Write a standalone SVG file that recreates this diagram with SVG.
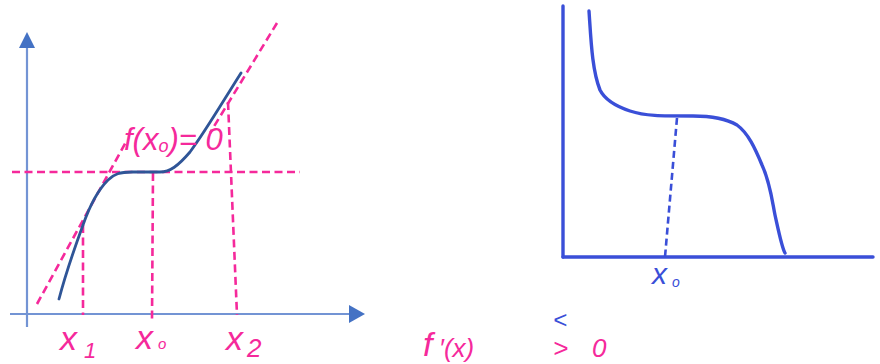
<svg xmlns="http://www.w3.org/2000/svg" width="880" height="364" viewBox="0 0 880 364">
<style>
.axis{stroke:#7394d4;stroke-width:2.2;fill:none}
.ahead{fill:#4472c4}
.pdash{stroke:#f5299b;stroke-width:2.6;stroke-dasharray:8 4.5;fill:none}
.curve{stroke:#2f5597;stroke-width:2.8;fill:none;stroke-linecap:round}
.bl{stroke:#3a4fd8;stroke-width:3.4;fill:none;stroke-linecap:round;stroke-linejoin:round}
.bdash{stroke:#3a4fd8;stroke-width:2.6;stroke-dasharray:7 4;fill:none}
.pt{fill:#f5299b;font-family:"Liberation Sans",Arial,sans-serif;font-style:italic}
.bt{fill:#3a4fd8;font-family:"Liberation Sans",Arial,sans-serif;font-style:italic}
</style>
<rect width="880" height="364" fill="#ffffff"/>
<g id="left-plot">
  <g id="left-axes">
    <line class="axis" x1="27" y1="327" x2="27" y2="46"/>
    <polygon class="ahead" points="27,32 19,48 35,48"/>
    <line class="axis" x1="10" y1="314" x2="350" y2="314"/>
    <polygon class="ahead" points="365,314 349,305 349,323"/>
  </g>
  <g id="left-guides">
    <line class="pdash" x1="12" y1="172" x2="300" y2="172"/>
    <line class="pdash" x1="37" y1="304" x2="127" y2="140"/>
    <line class="pdash" x1="277" y1="23" x2="210" y2="133"/>
    <line class="pdash" x1="83" y1="225" x2="83" y2="315"/>
    <line class="pdash" x1="153" y1="173" x2="152" y2="320"/>
    <line class="pdash" x1="228" y1="102" x2="237" y2="315"/>
  </g>
  <path id="left-curve" class="curve" d="M59,299 C64,280 72,255 83,225 C90,205 98,190 108,180 C114,174 120,172 132,172 L160,172 C170,172 178,166 190,152 C205,132 222,103 241,73"/>
  <g id="left-labels">
    <text class="pt" x="124" y="150" font-size="31">f(x<tspan font-size="18" dy="2">o</tspan><tspan dy="-2">)= 0</tspan></text>
    <text class="pt" x="60" y="350" font-size="34">x</text>
    <text class="pt" x="84" y="358" font-size="22">1</text>
    <text class="pt" x="136" y="349" font-size="34">x</text>
    <text class="pt" x="158" y="349" font-size="15">o</text>
    <text class="pt" x="226" y="350" font-size="34">x</text>
    <text class="pt" x="247" y="357" font-size="26">2</text>
  </g>
</g>
<g id="right-plot">
  <g id="right-axes">
    <line class="bl" x1="563" y1="6" x2="563" y2="257"/>
    <line class="bl" x1="563" y1="257" x2="873" y2="257"/>
  </g>
  <line id="right-guide" class="bdash" x1="677" y1="118" x2="665" y2="257"/>
  <path id="right-curve" class="bl" stroke-width="3" d="M589,11 C591,40 592,70 600,90 C605,100 615,106 630,111 C645,116 660,116 693,116 C710,116 725,118 737,125 C748,133 755,148 762,165 C770,182 772,200 775,215 C779,233 782,248 785,253"/>
  <g id="right-labels">
    <text class="bt" x="652" y="284" font-size="30">x</text>
    <text class="bt" x="672" y="287" font-size="14">o</text>
  </g>
</g>
<g id="bottom-text">
  <text class="pt" x="423" y="356" font-size="34">f</text>
  <text class="pt" x="439" y="357" font-size="26">′(x)</text>
  <text class="pt" x="553" y="357" font-size="26" font-style="normal">&gt;</text>
  <text class="pt" x="592" y="357" font-size="26">0</text>
  <text class="bt" x="553" y="328" font-size="24" font-style="normal">&lt;</text>
</g>
</svg>
